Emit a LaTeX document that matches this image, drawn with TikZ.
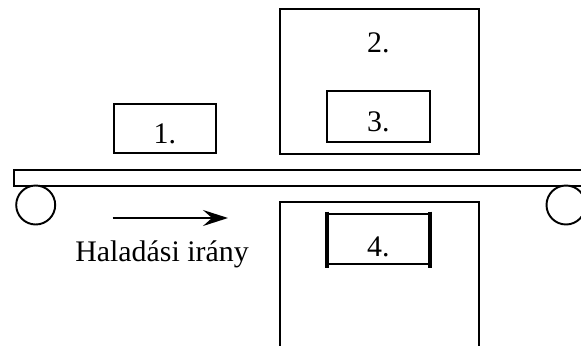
\documentclass[tikz,border=0pt]{standalone}
\usepackage{fontspec}
\setmainfont{Liberation Serif}
\usetikzlibrary{arrows.meta}

\begin{document}
\begin{tikzpicture}[
    x=0.02cm, y=-0.02cm,
    part/.style={draw=black, line width=1.1pt},
    roller/.style={draw=black, line width=1.1pt, fill=white},
    clamp/.style={line width=2.3pt},
    label/.style={font=\fontsize{17}{20}\selectfont, anchor=base, inner sep=0pt},
    arrow/.style={-{Stealth[length=5mm, width=3.2mm, inset=1.8mm]}, line width=1.2pt}
]

\useasboundingbox (0,0) rectangle (581,345);
\clip (0,0) rectangle (581,345);

% Conveyor belt and rollers
\draw[part] (14,170) rectangle (600,185.7);
\draw[roller] (35.7,205) circle[radius=19.5];
\draw[roller] (566,205) circle[radius=19.5];

% Workpiece on the belt
\draw[part] (114,104) rectangle (215.7,153);
\node[label] (n1) at (164.8,143.3) {1.};

% Upper station
\draw[part] (280,9) rectangle (479,154);
\node[label] (n2) at (378.3,52.7) {2.};
\draw[part] (326.7,90.7) rectangle (430,141.7);
\node[label] (n3) at (378.3,131.7) {3.};

% Lower station
\draw[part] (280,380) -- (280,202) -- (479,202) -- (479,380);
\draw[part] (326.7,214) rectangle (430,264);
\draw[clamp] (326.7,211.7) -- (326.7,268.3);
\draw[clamp] (430,211.7) -- (430,268.3);
\node[label] (n4) at (378.3,256.7) {4.};

% Direction of travel
\coordinate (dirA) at (112.7,218);
\coordinate (dirB) at (228,218);
\draw[arrow] (dirA) -- (dirB);
\node[label] (dir) at (162,261.7) {Haladási irány};

\end{tikzpicture}
\end{document}
